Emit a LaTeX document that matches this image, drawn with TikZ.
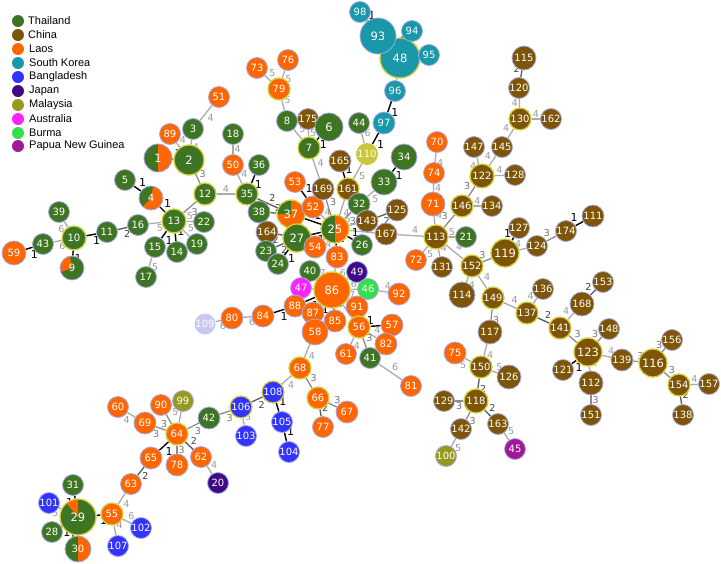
\documentclass[tikz,border=0pt]{standalone}
\usepackage{fontspec}
\setmainfont{Liberation Sans}
\newfontfamily\nfont{DejaVu Sans}
\usetikzlibrary{backgrounds}
\definecolor{th}{HTML}{3E7523}
\definecolor{cn}{HTML}{7D5505}
\definecolor{la}{HTML}{FF6600}
\definecolor{sk}{HTML}{1898A8}
\definecolor{bd}{HTML}{3333FF}
\definecolor{jp}{HTML}{3F0A86}
\definecolor{my}{HTML}{979A1E}
\definecolor{au}{HTML}{FF22FF}
\definecolor{bu}{HTML}{33E04A}
\definecolor{pg}{HTML}{A0189A}
\definecolor{myb}{HTML}{C8C83C}
\definecolor{lav}{HTML}{C8C8F5}
\definecolor{bord}{HTML}{A8A8E8}
\definecolor{ybord}{HTML}{D0D040}
\newcommand{\pieW}[3]{\fill[#1] (path picture bounding box.center) -- +(#2:40pt) -- +({(#2+#3)/2}:40pt) -- +(#3:40pt) -- cycle;}
\newcommand{\ed}[3]{\draw[e#3] (n#1) -- node[l#3]{#3} (n#2);}
\newcommand{\eds}[3]{\draw[e#3] (n#1) -- node[l#3,swap]{#3} (n#2);}
\newcommand{\en}[3]{\draw[e#3] (n#1) -- (n#2);}
\tikzset{
  nd/.style={circle, inner sep=0pt, minimum size=21pt, draw=bord, line width=0.8pt, text=white, font=\nfont\fontsize{10}{10}\selectfont},
  big/.style={font=\nfont\fontsize{11.5}{12}\selectfont},
  m/.style={minimum size=24pt},
  l/.style={minimum size=28pt, big},
  xl/.style={minimum size=36pt, big},
  xxl/.style={minimum size=40pt, big},
  yb/.style={draw=ybord, line width=1.3pt},
  e1/.style={draw=black, line width=1.4pt},
  e2/.style={draw=black!65, line width=1.3pt},
  e3/.style={draw=black!45, line width=1.3pt},
  e4/.style={draw=black!33, line width=1.3pt},
  e5/.style={e4}, e6/.style={e4}, e7/.style={e4},
  lb/.style={auto, inner sep=1pt, font=\nfont\fontsize{9.5}{10}\selectfont},
  l1/.style={lb, text=black, font=\nfont\fontsize{11}{11}\selectfont},
  l2/.style={lb, text=black!75},
  l3/.style={lb, text=black!55},
  l4/.style={lb, text=black!40},
  l5/.style={l4}, l6/.style={l4}, l7/.style={l4},
  lgc/.style={circle, inner sep=0pt, minimum size=12pt},
  lgt/.style={anchor=west, inner sep=0pt, font=\fontsize{11}{12}\selectfont}
}
\begin{document}
\begin{tikzpicture}[x=1pt,y=-1pt]
\useasboundingbox (0,0) rectangle (721,563);
% legend
\node[lgc,fill=th] (g1) at (18,21) {}; \node[lgt] (t1) at (28,21) {Thailand};
\node[lgc,fill=cn] (g2) at (18,35) {}; \node[lgt] (t2) at (28,35) {China};
\node[lgc,fill=la] (g3) at (18,49) {}; \node[lgt] (t3) at (29,49) {Laos};
\node[lgc,fill=sk] (g4) at (18,63) {}; \node[lgt] (t4) at (29,63) {South Korea};
\node[lgc,fill=bd] (g5) at (18,77) {}; \node[lgt] (t5) at (29,77) {Bangladesh};
\node[lgc,fill=jp] (g6) at (18,91) {}; \node[lgt] (t6) at (29,91) {Japan};
\node[lgc,fill=my] (g7) at (18,105) {}; \node[lgt] (t7) at (29,105) {Malaysia};
\node[lgc,fill=au] (g8) at (18,119) {}; \node[lgt] (t8) at (29,119) {Australia};
\node[lgc,fill=bu] (g9) at (18,133) {}; \node[lgt] (t9) at (29,133) {Burma};
\node[lgc,fill=pg] (g10) at (18,146) {}; \node[lgt] (t10) at (29,146) {Papua New Guinea};
% top-left
\node[nd,fill=la] (n51) at (219,97) {51};
\node[nd,fill=th] (n3) at (193,129) {3};
\node[nd,fill=la] (n89) at (170,134) {89};
\node[nd,l,fill=th,path picture={\pieW{la}{-90}{90}}] (n1) at (158,158) {1};
\node[nd,l,yb,minimum size=30pt,fill=th] (n2) at (189,160) {2};
\node[nd,yb,fill=th,minimum size=22pt] (n12) at (205,194) {12};
\node[nd,fill=th] (n5) at (125,180) {5};
\node[nd,m,fill=la,path picture={\pieW{th}{80}{225}}] (n4) at (151,198) {4};
\node[nd,m,yb,fill=th] (n13) at (174,221) {13};
\node[nd,fill=th] (n22) at (204,222) {22};
\node[nd,fill=th] (n19) at (197,244) {19};
\node[nd,fill=th] (n14) at (177,252) {14};
\node[nd,fill=th] (n15) at (155,247) {15};
\node[nd,fill=th] (n17) at (146,277) {17};
\node[nd,fill=th] (n16) at (138,225) {16};
\node[nd,fill=th] (n11) at (107,232) {11};
\node[nd,m,yb,fill=th] (n10) at (74,238) {10};
\node[nd,fill=th] (n39) at (59,212) {39};
\node[nd,fill=th] (n43) at (43,244) {43};
\node[nd,m,fill=la] (n59) at (14,253) {59};
\node[nd,m,fill=th,path picture={\pieW{la}{100}{200}}] (n9) at (72,268) {9};
% middle top
\node[nd,fill=th] (n18) at (233,134) {18};
\node[nd,fill=la] (n50) at (233,165) {50};
\node[nd,fill=th] (n36) at (259,165) {36};
\node[nd,yb,fill=th,minimum size=22pt] (n35) at (247,194) {35};
\node[nd,fill=th,minimum size=22pt] (n38) at (259,212) {38};
\node[nd,l,yb,fill=la,path picture={\pieW{th}{90}{180}}] (n37) at (291,214) {37};
\node[nd,fill=la] (n53) at (295,182) {53};
\node[nd,fill=la,minimum size=22pt] (n52) at (313,207) {52};
\node[nd,fill=la] (n73) at (257,68) {73};
\node[nd,fill=la] (n76) at (288,60) {76};
\node[nd,yb,fill=la,minimum size=22pt] (n79) at (279,89) {79};
\node[nd,fill=th] (n8) at (287,121) {8};
\node[nd,fill=cn] (n175) at (308,119) {175};
\node[nd,l,fill=th] (n6) at (329,127) {6};
\node[nd,yb,fill=th,minimum size=22pt] (n7) at (309,148) {7};
\node[nd,fill=cn,minimum size=22pt] (n169) at (323,189) {169};
\node[nd,fill=cn,minimum size=22pt] (n165) at (340,161) {165};
\node[nd,yb,fill=cn,minimum size=22pt] (n161) at (348,189) {161};
\node[nd,fill=th] (n44) at (359,123) {44};
\node[nd,fill=myb,draw=none,minimum size=22pt] (n110) at (367,154) {110};
\node[nd,fill=sk,minimum size=22pt] (n97) at (384,123) {97};
\node[nd,fill=sk] (n96) at (395,91) {96};
\node[nd,xxl,yb,fill=sk] (n48) at (400,58) {48};
\node[nd,xl,fill=sk] (n93) at (378,36) {93};
\node[nd,fill=sk] (n98) at (360,12) {98};
\node[nd,fill=sk] (n94) at (412,31) {94};
\node[nd,fill=sk] (n95) at (429,55) {95};
\node[nd,fill=th,minimum size=26pt] (n34) at (404,157) {34};
\node[nd,fill=th,minimum size=26pt] (n33) at (384,182) {33};
\node[nd,fill=th,minimum size=22pt] (n32) at (359,204) {32};
\node[nd,fill=cn,minimum size=22pt] (n125) at (397,210) {125};
\node[nd,fill=cn,minimum size=22pt] (n143) at (367,221) {143};
\node[nd,fill=cn,minimum size=22pt] (n167) at (386,234) {167};
\node[nd,l,yb,fill=th,path picture={\pieW{la}{-90}{90}}] (n25) at (335,229) {25};
\node[nd,fill=cn,minimum size=22pt] (n164) at (267,232) {164};
\node[nd,l,yb,fill=th] (n27) at (297,238) {27};
\node[nd,fill=th] (n23) at (266,251) {23};
\node[nd,fill=th] (n24) at (278,264) {24};
\node[nd,fill=la,minimum size=22pt] (n54) at (315,247) {54};
\node[nd,fill=th] (n26) at (362,245) {26};
\node[nd,fill=la,minimum size=22pt] (n83) at (337,257) {83};
% center
\node[nd,fill=th] (n40) at (310,271) {40};
\node[nd,fill=jp] (n49) at (357,272) {49};
\node[nd,fill=au] (n47) at (301,288) {47};
\node[nd,xl,yb,fill=la] (n86) at (332,290) {86};
\node[nd,fill=bu] (n46) at (368,289) {46};
\node[nd,fill=la,minimum size=22pt] (n92) at (399,294) {92};
\node[nd,fill=la,minimum size=22pt] (n88) at (295,306) {88};
\node[nd,fill=la,minimum size=22pt] (n87) at (313,313) {87};
\node[nd,fill=la,minimum size=22pt] (n91) at (357,307) {91};
\node[nd,fill=la,minimum size=22pt] (n85) at (335,321) {85};
\node[nd,fill=la,minimum size=26pt] (n58) at (315,332) {58};
\node[nd,yb,fill=la,minimum size=22pt] (n56) at (359,327) {56};
\node[nd,fill=la,minimum size=22pt] (n57) at (392,325) {57};
\node[nd,fill=la,minimum size=22pt] (n82) at (386,344) {82};
\node[nd,fill=la] (n61) at (346,354) {61};
\node[nd,fill=th] (n41) at (370,358) {41};
\node[nd,fill=la] (n81) at (411,386) {81};
\node[nd,fill=la,minimum size=22pt] (n84) at (263,316) {84};
\node[nd,fill=la,minimum size=22pt] (n80) at (232,318) {80};
\node[nd,fill=lav,draw=none] (n109) at (205,324) {109};
\node[nd,yb,fill=la,minimum size=22pt] (n68) at (300,368) {68};
% right
\node[nd,m,fill=la] (n71) at (433,204) {71};
\node[nd,fill=la] (n70) at (437,142) {70};
\node[nd,fill=la] (n74) at (434,173) {74};
\node[nd,m,yb,fill=cn] (n113) at (436,237) {113};
\node[nd,fill=th] (n21) at (466,237) {21};
\node[nd,fill=la] (n72) at (416,260) {72};
\node[nd,fill=cn] (n131) at (442,267) {131};
\node[nd,yb,fill=cn,minimum size=22pt] (n146) at (462,206) {146};
\node[nd,fill=cn] (n134) at (492,206) {134};
\node[nd,m,yb,fill=cn] (n122) at (482,176) {122};
\node[nd,fill=cn] (n147) at (474,147) {147};
\node[nd,fill=cn] (n145) at (502,147) {145};
\node[nd,fill=cn] (n128) at (515,175) {128};
\node[nd,yb,fill=cn,minimum size=22pt] (n130) at (520,119) {130};
\node[nd,fill=cn] (n162) at (551,119) {162};
\node[nd,fill=cn] (n120) at (519,88) {120};
\node[nd,m,fill=cn] (n115) at (524,58) {115};
\node[nd,yb,fill=cn,minimum size=22pt] (n152) at (472,266) {152};
\node[nd,l,yb,fill=cn] (n119) at (505,253) {119};
\node[nd,fill=cn] (n127) at (519,228) {127};
\node[nd,fill=cn] (n124) at (537,246) {124};
\node[nd,fill=cn] (n174) at (566,231) {174};
\node[nd,fill=cn,minimum size=22pt] (n111) at (593,216) {111};
\node[nd,fill=cn,minimum size=26pt] (n114) at (462,295) {114};
\node[nd,yb,fill=cn,minimum size=22pt] (n149) at (493,298) {149};
\node[nd,fill=cn] (n136) at (543,289) {136};
\node[nd,yb,fill=cn,minimum size=22pt] (n137) at (527,313) {137};
\node[nd,m,fill=cn] (n168) at (582,304) {168};
\node[nd,fill=cn] (n153) at (603,282) {153};
\node[nd,yb,fill=cn,minimum size=22pt] (n141) at (560,328) {141};
\node[nd,fill=cn] (n148) at (609,329) {148};
\node[nd,l,yb,fill=cn] (n123) at (588,352) {123};
\node[nd,fill=cn] (n121) at (563,370) {121};
\node[nd,m,fill=cn] (n112) at (591,383) {112};
\node[nd,fill=cn] (n151) at (591,415) {151};
\node[nd,fill=cn,minimum size=22pt] (n139) at (622,360) {139};
\node[nd,l,yb,fill=cn] (n116) at (653,363) {116};
\node[nd,fill=cn] (n156) at (672,340) {156};
\node[nd,yb,fill=cn,minimum size=22pt] (n154) at (679,385) {154};
\node[nd,fill=cn] (n157) at (709,384) {157};
\node[nd,fill=cn] (n138) at (683,415) {138};
\node[nd,m,fill=cn] (n117) at (490,332) {117};
\node[nd,yb,fill=cn,minimum size=22pt] (n150) at (481,367) {150};
\node[nd,fill=la,minimum size=22pt] (n75) at (455,353) {75};
\node[nd,m,fill=cn] (n126) at (509,377) {126};
\node[nd,m,yb,fill=cn] (n118) at (476,401) {118};
\node[nd,fill=cn] (n129) at (444,401) {129};
\node[nd,fill=cn] (n142) at (461,429) {142};
\node[nd,fill=cn] (n163) at (498,424) {163};
\node[nd,fill=pg] (n45) at (515,449) {45};
\node[nd,fill=my] (n100) at (446,456) {100};
% bottom-left
\node[nd,yb,fill=la,minimum size=22pt] (n66) at (318,398) {66};
\node[nd,fill=la,minimum size=22pt] (n67) at (347,412) {67};
\node[nd,fill=la] (n77) at (323,427) {77};
\node[nd,yb,fill=bd,minimum size=22pt] (n108) at (273,392) {108};
\node[nd,fill=bd] (n105) at (282,422) {105};
\node[nd,fill=bd] (n104) at (289,452) {104};
\node[nd,yb,fill=bd,minimum size=22pt] (n106) at (241,407) {106};
\node[nd,fill=bd] (n103) at (246,436) {103};
\node[nd,fill=th,minimum size=22pt] (n42) at (209,418) {42};
\node[nd,fill=my] (n99) at (183,401) {99};
\node[nd,fill=la] (n90) at (161,405) {90};
\node[nd,fill=la] (n60) at (118,407) {60};
\node[nd,fill=la,minimum size=22pt] (n69) at (145,423) {69};
\node[nd,yb,fill=la,minimum size=22pt] (n64) at (177,434) {64};
\node[nd,fill=la,minimum size=22pt] (n65) at (151,458) {65};
\node[nd,fill=la,minimum size=22pt] (n78) at (177,465) {78};
\node[nd,fill=la] (n62) at (201,457) {62};
\node[nd,fill=jp] (n20) at (218,483) {20};
\node[nd,fill=la] (n63) at (131,484) {63};
\node[nd,yb,fill=la,minimum size=22pt] (n55) at (112,514) {55};
\node[nd,fill=bd] (n102) at (141,528) {102};
\node[nd,fill=bd] (n107) at (118,546) {107};
\node[nd,fill=th] (n31) at (73,485) {31};
\node[nd,fill=bd] (n101) at (49,503) {101};
\node[nd,xl,yb,fill=th,path picture={\pieW{la}{90}{130}}] (n29) at (78,517) {29};
\node[nd,fill=th] (n28) at (52,532) {28};
\node[nd,fill=th,minimum size=26pt,path picture={\pieW{la}{-90}{90}}] (n30) at (78,549) {30};
\begin{pgfonlayer}{background}
\ed{51}{3}{4} \ed{3}{2}{4} \ed{89}{2}{4} \ed{1}{2}{1} \ed{2}{12}{3}
\ed{12}{35}{4} \ed{12}{13}{3} \ed{5}{4}{1} \ed{4}{13}{1} \ed{13}{22}{5}
\ed{13}{19}{5} \ed{13}{14}{1} \ed{13}{15}{1} \ed{15}{17}{5} \ed{13}{16}{5}
\ed{16}{11}{2} \ed{11}{10}{1} \ed{10}{39}{6} \ed{10}{43}{6} \ed{43}{59}{1}
\ed{10}{9}{1}
\ed{18}{50}{4} \ed{50}{35}{4} \ed{36}{35}{1} \ed{35}{37}{2} \ed{38}{37}{2}
\ed{37}{25}{1} \ed{53}{52}{1} \ed{52}{25}{4} \ed{73}{79}{5} \ed{76}{79}{5}
\ed{79}{8}{5} \ed{8}{7}{5} \ed{175}{7}{5} \ed{6}{7}{1} \ed{7}{169}{4}
\ed{169}{25}{3} \ed{165}{161}{1} \ed{161}{25}{4} \ed{110}{161}{5} \ed{44}{110}{6}
\ed{97}{110}{1} \ed{96}{97}{1} \draw[e6] (n48) -- node[l6,pos=0.1,swap]{6} (n96); \ed{93}{48}{1} \ed{98}{93}{1}
\ed{94}{48}{2} \ed{95}{48}{1} \ed{34}{33}{1} \ed{33}{32}{5} \ed{32}{25}{3}
\ed{125}{143}{2} \eds{143}{25}{5} \en{25}{167}{4} \ed{167}{113}{4} \ed{25}{26}{1}
\ed{25}{83}{1} \ed{25}{54}{4} \ed{25}{27}{1} \ed{27}{164}{2} \ed{27}{23}{2}
\ed{27}{24}{1}
\en{83}{86}{4} \ed{86}{40}{7} \ed{86}{49}{6} \en{86}{47}{4} \ed{86}{46}{6}
\ed{46}{92}{4} \ed{86}{88}{1} \draw[e1] (n86) -- node[l1,pos=0.8,swap]{1} (n87); \ed{86}{85}{1} \ed{86}{91}{7}
\en{86}{56}{4} \en{86}{58}{4} \ed{88}{84}{1} \ed{84}{80}{6} \ed{80}{109}{6}
\ed{56}{57}{1} \ed{56}{82}{4} \ed{56}{61}{4} \ed{56}{41}{3} \ed{41}{81}{6}
\ed{58}{68}{4} \ed{68}{66}{3} \ed{66}{67}{3} \ed{66}{77}{2} \ed{68}{108}{4}
\ed{108}{105}{1} \ed{105}{104}{1} \ed{108}{106}{2} \ed{106}{103}{5} \ed{106}{42}{3}
\ed{42}{64}{3} \ed{64}{99}{5} \ed{64}{90}{3} \ed{64}{69}{3} \ed{69}{60}{4}
\ed{64}{65}{1} \ed{64}{78}{3} \ed{64}{62}{2} \ed{62}{20}{4} \ed{65}{63}{2}
\ed{63}{55}{4} \ed{55}{29}{1} \ed{55}{102}{6} \ed{55}{107}{4} \ed{29}{31}{1}
\ed{29}{101}{5} \ed{29}{28}{1} \ed{29}{30}{1}
\ed{70}{74}{4} \ed{74}{71}{4} \ed{71}{113}{4} \ed{113}{21}{5} \ed{113}{72}{5}
\ed{113}{131}{4} \ed{113}{152}{4} \ed{113}{146}{3} \ed{146}{134}{4} \ed{146}{122}{3}
\ed{122}{147}{4} \ed{122}{145}{4} \ed{122}{128}{4} \ed{145}{130}{4} \ed{130}{162}{4}
\ed{130}{120}{4} \ed{120}{115}{2} \ed{152}{119}{3} \ed{119}{127}{1} \ed{119}{124}{4}
\ed{124}{174}{3} \ed{174}{111}{1} \ed{152}{114}{4} \ed{152}{149}{4} \ed{149}{137}{4}
\ed{137}{136}{4} \ed{137}{141}{2} \ed{141}{168}{4} \ed{168}{153}{2} \ed{141}{123}{3}
\ed{123}{148}{3} \ed{123}{121}{1} \ed{123}{112}{4} \ed{112}{151}{3} \ed{123}{139}{4}
\ed{139}{116}{3} \ed{116}{156}{3} \ed{116}{154}{3} \ed{154}{157}{4} \ed{154}{138}{2}
\ed{149}{117}{3} \ed{117}{150}{4} \ed{150}{75}{5} \ed{150}{126}{5} \ed{150}{118}{2}
\ed{118}{129}{3} \ed{118}{142}{3} \ed{142}{100}{5} \ed{118}{163}{2} \ed{163}{45}{5}
\end{pgfonlayer}
\end{tikzpicture}
\end{document}
